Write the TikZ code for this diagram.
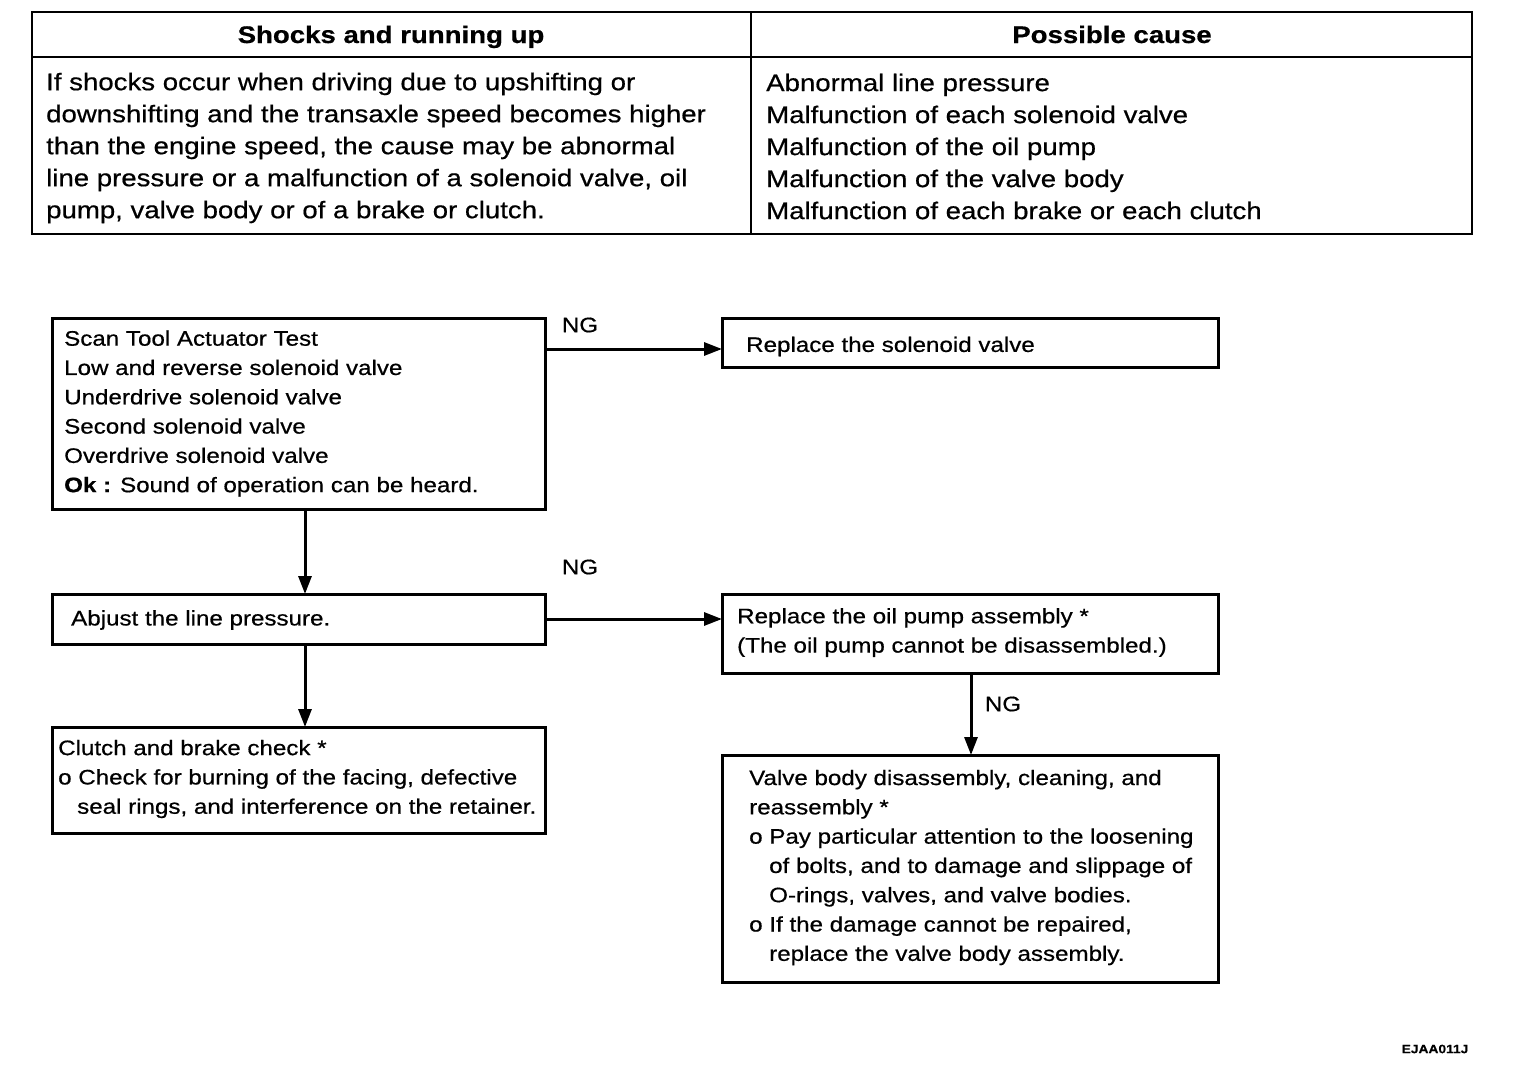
\documentclass[tikz,border=0pt]{standalone}
\usepackage{fontspec}
\setmainfont{Liberation Sans}[FakeStretch=1.15,FakeBold=0.6]
\usetikzlibrary{arrows.meta,calc}
\tikzset{
  tbl/.style={line width=2.5pt},
  box/.style={draw, line width=3pt, inner sep=0pt, outer sep=0pt, anchor=north west},
  txt/.style={inner sep=0pt, anchor=west, align=left, font=\fontsize{21}{29.3}\selectfont},
  tbltxt/.style={inner sep=0pt, anchor=west, align=left, font=\fontsize{24}{32}\selectfont},
  hdr/.style={inner sep=0pt, anchor=base, font=\fontsize{24}{32}\selectfont\bfseries},
  lbl/.style={inner sep=0pt, font=\fontsize{21}{25}\selectfont},
  arr/.style={line width=3pt, -{Triangle[length=18pt,width=13pt]}},
}
\begin{document}
\begin{tikzpicture}[x=1pt,y=-1pt]
\useasboundingbox[fill=white] (0,0) rectangle (1520,1076);
% table
\draw[tbl] (32,12) rectangle (1472,234);
\draw[tbl] (32,57) -- (1472,57);
\draw[tbl] (751,12) -- (751,234);
\node[hdr] (h1) at (391,43) {Shocks and running up};
\node[hdr] (h2) at (1112,43) {Possible cause};
\node[tbltxt] (t1) at (46,148) {If shocks occur when driving due to upshifting or\\downshifting and the transaxle speed becomes higher\\than the engine speed, the cause may be abnormal\\line pressure or a malfunction of a solenoid valve, oil\\pump, valve body or of a brake or clutch.};
\node[tbltxt] (t2) at (766,146.5) {Abnormal line pressure\\Malfunction of each solenoid valve\\Malfunction of the oil pump\\Malfunction of the valve body\\Malfunction of each brake or each clutch};
% boxes
\node[box, minimum width=493pt, minimum height=191pt] (A) at (52,318) {};
\node[box, minimum width=496pt, minimum height=49pt] (B) at (722,318) {};
\node[box, minimum width=493pt, minimum height=50pt] (C) at (52,594) {};
\node[box, minimum width=496pt, minimum height=79pt] (D) at (722,594) {};
\node[box, minimum width=496pt, minimum height=227pt] (E) at (722,755) {};
\node[box, minimum width=493pt, minimum height=106pt] (F) at (52,727) {};
% texts
\node[txt] (At) at ([xshift=12pt,yshift=0pt]A.west) {Scan Tool Actuator Test\\Low and reverse solenoid valve\\Underdrive solenoid valve\\Second solenoid valve\\Overdrive solenoid valve\\\textbf{Ok :} Sound of operation can be heard.};
\node[txt] (Bt) at ([xshift=24pt,yshift=-4pt]B.west) {Replace the solenoid valve};
\node[txt] (Ct) at ([xshift=19pt,yshift=-1pt]C.west) {Abjust the line pressure.};
\node[txt] (Dt) at ([xshift=15pt,yshift=1pt]D.west) {Replace the oil pump assembly *\\(The oil pump cannot be disassembled.)};
\node[txt] (Et) at ([xshift=27pt,yshift=1pt]E.west) {Valve body disassembly, cleaning, and\\reassembly *\\o Pay particular attention to the loosening\\\hspace*{20pt}of bolts, and to damage and slippage of\\\hspace*{20pt}O-rings, valves, and valve bodies.\\o If the damage cannot be repaired,\\\hspace*{20pt}replace the valve body assembly.};
\node[txt] (Ft) at ([xshift=6pt,yshift=1pt]F.west) {Clutch and brake check *\\o Check for burning of the facing, defective\\\hspace*{19pt}seal rings, and interference on the retainer.};
% connectors
\draw[arr] ([yshift=-6.5pt]B.west -| A.east) -- ([yshift=-6.5pt]B.west);
\draw[arr] ([xshift=6.5pt]A.south) -- ([xshift=6.5pt]A.south |- C.north);
\draw[arr] (C.east) -- (C.east -| D.west);
\draw[arr] ([xshift=6.5pt]C.south) -- ([xshift=6.5pt]C.south |- F.north);
\draw[arr] ([xshift=1pt]D.south) -- ([xshift=1pt]D.south |- E.north);
% labels
\node[lbl] (ng1) at (580,325) {NG};
\node[lbl] (ng2) at (580,567) {NG};
\node[lbl] (ng3) at (1003,704) {NG};
\node[inner sep=0pt, font=\fontsize{12}{14}\selectfont\bfseries] (code) at (1435,1049) {EJAA011J};
\end{tikzpicture}
\end{document}
